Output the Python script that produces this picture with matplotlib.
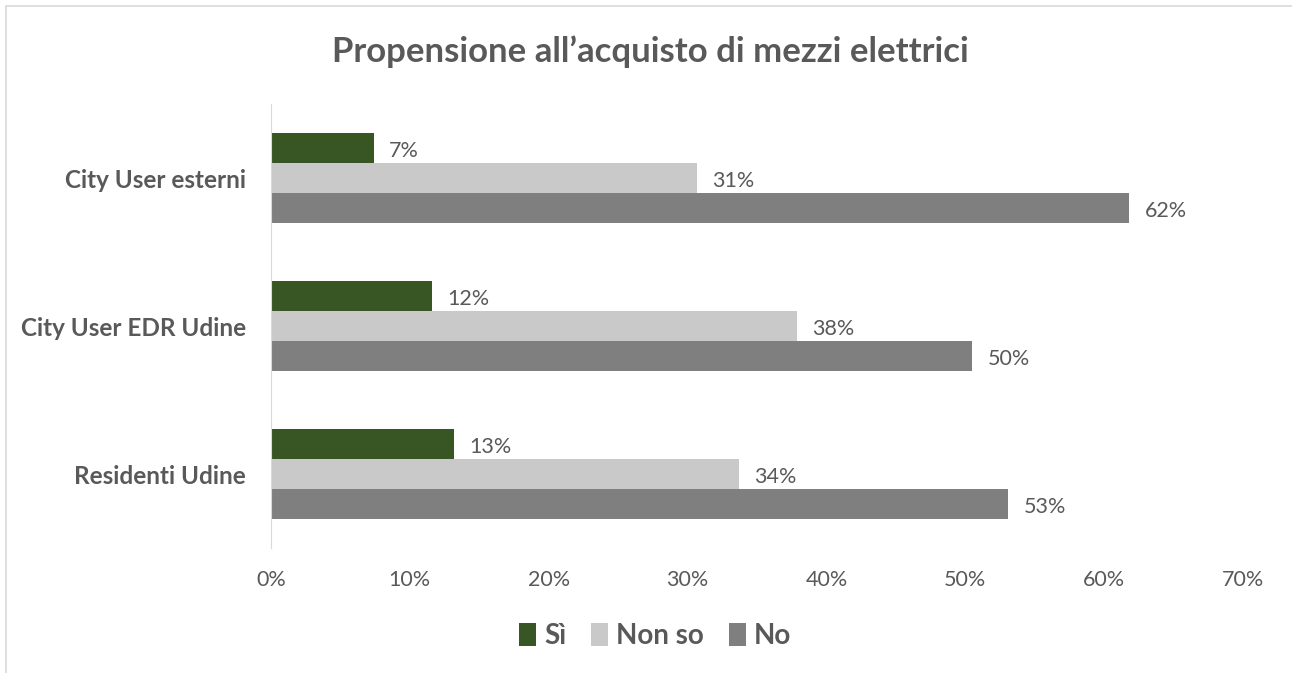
import matplotlib.pyplot as plt
import numpy as np
from matplotlib.patches import Rectangle

categories = ["Residenti Udine", "City User EDR Udine", "City User esterni"]
series = ["Sì", "Non so", "No"]
si = [13.2, 11.6, 7.4]
non_so = [33.7, 37.9, 30.7]
no = [53.1, 50.5, 61.8]
colors = ["#375623", "#C9C9C9", "#7F7F7F"]
text_color = "#595959"

plt.rcParams["font.family"] = ["Lato", "DejaVu Sans"]

fig = plt.figure(figsize=(12.92, 6.73), dpi=100)
ax = fig.add_axes([271 / 1292, 1 - 548 / 673, 972 / 1292, 444 / 673])

# outer chart border (only left/top visible in the original)
fig.patches.append(Rectangle((6 / 1292, -0.1), 1.2, 1 - 6 / 673 + 0.1,
                             transform=fig.transFigure, fill=False,
                             edgecolor="#D9D9D9", linewidth=1.2))

y = np.arange(len(categories))
h = 0.203
for i, (name, vals) in enumerate(zip(series, [si, non_so, no])):
    pos = y + (1 - i) * h
    ax.barh(pos, vals, height=h, color=colors[i], label=name)
    for p, v in zip(pos, vals):
        ax.text(v + 1.1, p - 0.02, "{:.0f}%".format(v), va="center", ha="left",
                fontsize=15.5, color=text_color)

ax.set_xlim(0, 70)
ax.set_ylim(-0.5, 2.5)
ax.set_xticks(range(0, 71, 10))
ax.set_xticklabels(["{}%".format(t) for t in range(0, 71, 10)])
ax.set_yticks(y)
ax.set_yticklabels(categories, fontweight="bold", fontsize=17.5)
ax.tick_params(axis="x", length=0, labelsize=15.5, labelcolor=text_color, pad=16)
ax.tick_params(axis="y", length=0, labelcolor=text_color, pad=18)
for s in ["top", "right", "bottom"]:
    ax.spines[s].set_visible(False)
ax.spines["left"].set_color("#D9D9D9")

fig.text(650 / 1292, 1 - 52 / 673, "Propensione all’acquisto di mezzi elettrici",
         ha="center", va="center", fontsize=25, fontweight="bold", color=text_color)

fig.legend(loc="center", bbox_to_anchor=(655 / 1292, 1 - 636 / 673), ncol=3,
           frameon=False, handlelength=0.6, handleheight=0.9, handletextpad=0.3,
           columnspacing=0.9, prop={"weight": "bold", "size": 20}, labelcolor=text_color)

fig.savefig("out.png", dpi=100, facecolor="white")
